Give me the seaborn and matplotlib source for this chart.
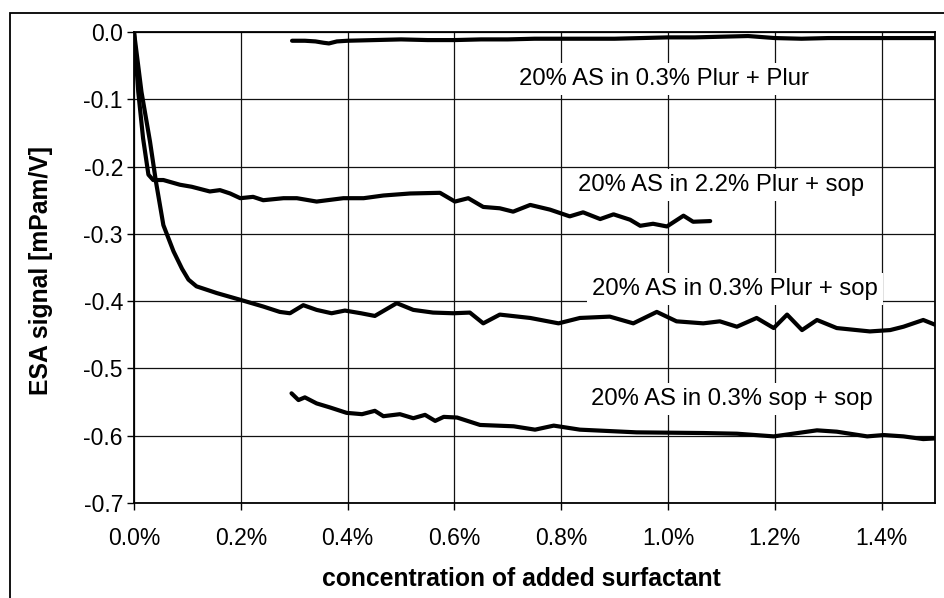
import matplotlib
matplotlib.use("Agg")
import matplotlib.pyplot as plt
import matplotlib.patches as mpatches
from matplotlib.ticker import FuncFormatter, FixedLocator
import seaborn as sns
import pandas as pd

# ---- data (concentration in %, ESA signal in mPam/V) ----
plur_plur_x = [0.296, 0.32, 0.34, 0.355, 0.365, 0.38, 0.40, 0.45, 0.50, 0.55, 0.60, 0.65, 0.70,
               0.75, 0.80, 0.85, 0.90, 0.95, 1.00, 1.05, 1.10, 1.15, 1.20, 1.25, 1.30, 1.35,
               1.40, 1.45, 1.50]
plur_plur_y = [-0.013, -0.013, -0.014, -0.016, -0.017, -0.014, -0.013, -0.012, -0.011, -0.012,
               -0.012, -0.011, -0.011, -0.010, -0.010, -0.010, -0.010, -0.009, -0.008, -0.008,
               -0.007, -0.006, -0.009, -0.010, -0.009, -0.009, -0.009, -0.009, -0.009]

plur22_sop_x = [0.0, 0.008, 0.017, 0.027, 0.036, 0.055, 0.086, 0.108, 0.142, 0.161, 0.180, 0.199,
                0.223, 0.242, 0.280, 0.305, 0.342, 0.392, 0.430, 0.467, 0.517, 0.573, 0.601,
                0.626, 0.654, 0.685, 0.710, 0.742, 0.779, 0.816, 0.841, 0.873, 0.898, 0.929,
                0.948, 0.972, 0.998, 1.029, 1.047, 1.079]
plur22_sop_y = [0.0, -0.089, -0.158, -0.212, -0.220, -0.220, -0.227, -0.230, -0.237, -0.235,
                -0.240, -0.247, -0.245, -0.250, -0.247, -0.247, -0.252, -0.247, -0.247, -0.243,
                -0.240, -0.239, -0.252, -0.247, -0.260, -0.262, -0.267, -0.257, -0.264, -0.274,
                -0.268, -0.278, -0.271, -0.279, -0.288, -0.285, -0.289, -0.273, -0.282, -0.281]

plur03_sop_x = [0.0, 0.014, 0.030, 0.041, 0.055, 0.074, 0.090, 0.102, 0.117, 0.155, 0.199, 0.242,
                0.273, 0.292, 0.317, 0.342, 0.370, 0.395, 0.425, 0.451, 0.492, 0.523, 0.560,
                0.598, 0.629, 0.654, 0.685, 0.742, 0.795, 0.835, 0.891, 0.935, 0.979, 1.016,
                1.066, 1.097, 1.129, 1.166, 1.198, 1.223, 1.251, 1.279, 1.316, 1.378, 1.416,
                1.441, 1.478, 1.500]
plur03_sop_y = [0.0, -0.089, -0.163, -0.222, -0.287, -0.326, -0.352, -0.368, -0.378, -0.388,
                -0.398, -0.408, -0.416, -0.418, -0.406, -0.413, -0.418, -0.414, -0.418, -0.422,
                -0.403, -0.413, -0.417, -0.418, -0.417, -0.433, -0.420, -0.425, -0.433, -0.425,
                -0.423, -0.433, -0.416, -0.430, -0.433, -0.430, -0.438, -0.425, -0.440, -0.420,
                -0.443, -0.428, -0.440, -0.445, -0.443, -0.438, -0.428, -0.435]

sop_sop_x = [0.295, 0.308, 0.320, 0.342, 0.367, 0.398, 0.427, 0.451, 0.467, 0.498, 0.523, 0.545,
             0.564, 0.580, 0.605, 0.648, 0.711, 0.751, 0.786, 0.835, 0.941, 1.066, 1.129, 1.198,
             1.279, 1.316, 1.373, 1.404, 1.441, 1.478, 1.500]
sop_sop_y = [-0.537, -0.547, -0.543, -0.552, -0.558, -0.566, -0.568, -0.563, -0.571, -0.568,
             -0.574, -0.569, -0.578, -0.572, -0.573, -0.584, -0.586, -0.591, -0.585, -0.591,
             -0.595, -0.596, -0.597, -0.601, -0.592, -0.594, -0.601, -0.599, -0.601, -0.605,
             -0.604]

series_labels = ["20% AS in 0.3% Plur + Plur", "20% AS in 2.2% Plur + sop",
                 "20% AS in 0.3% Plur + sop", "20% AS in 0.3% sop + sop"]
label_x = [0.993, 1.099, 1.125, 1.120]
label_y = [-0.079, -0.236, -0.391, -0.554]

x_ticks = [0.0, 0.2, 0.4, 0.6, 0.8, 1.0, 1.2, 1.4]
y_ticks = [-0.7, -0.6, -0.5, -0.4, -0.3, -0.2, -0.1, 0.0]

# ---- style ----
sns.set_style("white")
plt.rcParams['font.family'] = ['Liberation Sans', 'DejaVu Sans']
plt.rcParams['axes.unicode_minus'] = False
plt.rcParams['text.color'] = 'black'
plt.rcParams['axes.labelcolor'] = 'black'
plt.rcParams['xtick.color'] = 'black'
plt.rcParams['ytick.color'] = 'black'

fig = plt.figure(figsize=(9.45, 5.98), dpi=100)
ax = fig.add_axes([134 / 945, 1 - 503 / 598, 801 / 945, 471 / 598])

series = [(plur_plur_x, plur_plur_y), (plur22_sop_x, plur22_sop_y),
          (plur03_sop_x, plur03_sop_y), (sop_sop_x, sop_sop_y)]
for (xs, ys), name in zip(series, series_labels):
    df = pd.DataFrame({"x": xs, "y": ys})
    sns.lineplot(data=df, x="x", y="y", ax=ax, color="black", linewidth=3.0,
                 estimator=None, sort=False, zorder=4)

for txt, tx, ty in zip(series_labels, label_x, label_y):
    ax.text(tx, ty, txt, ha="center", va="baseline", fontsize=17.2, color="black",
            zorder=3, bbox=dict(boxstyle="square,pad=0.22", fc="white", ec="none"))

ax.set_xlim(0, 1.5)
ax.set_ylim(-0.7, 0.0)
ax.xaxis.set_major_locator(FixedLocator(x_ticks))
ax.yaxis.set_major_locator(FixedLocator(y_ticks))
ax.xaxis.set_major_formatter(FuncFormatter(lambda v, p: f"{v:.1f}%"))
ax.yaxis.set_major_formatter(FuncFormatter(lambda v, p: f"{v:.1f}"))

ax.grid(True, color="#111111", linewidth=0.9)
ax.set_axisbelow(True)
for s in ax.spines.values():
    s.set_visible(True)
    s.set_color("black")
    s.set_linewidth(1.3)

ax.tick_params(axis="both", which="major", direction="out", length=5, width=1,
               color="black", labelsize=16.5, labelcolor="black")
ax.tick_params(axis="x", pad=12)
ax.tick_params(axis="y", pad=3)
ax.tick_params(bottom=True, left=True)

ax.set_xlabel("concentration of added surfactant", fontsize=17.8, fontweight="bold",
              color="black")
ax.set_ylabel("ESA signal [mPam/V]", fontsize=17.8, fontweight="bold", color="black")
ax.xaxis.set_label_coords(0.484, -0.135)
ax.yaxis.set_label_coords(-0.101, 0.4926)

# outer frame
frame = mpatches.Rectangle((10 / 945, -0.1), 1.2, 1.1 - 13 / 598, transform=fig.transFigure,
                           fill=False, ec="black", lw=1.3, clip_on=False)
fig.patches.append(frame)

fig.savefig("out.png", dpi=100)
